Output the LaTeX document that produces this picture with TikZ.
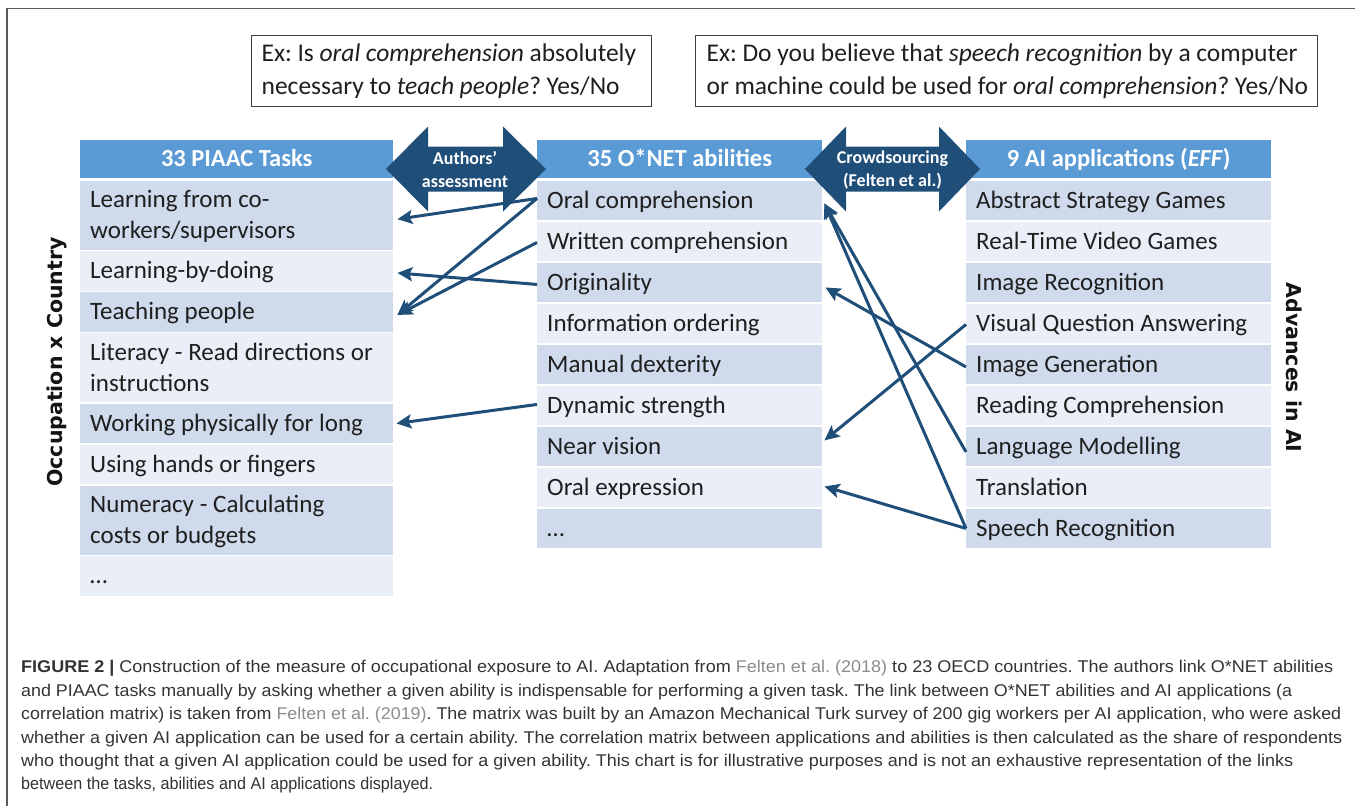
\documentclass[tikz,border=0pt]{standalone}
\usepackage{fontspec}
\usepackage{graphicx}
\setmainfont{Carlito}
\newfontfamily\capfont{Liberation Sans}
\newfontfamily\sidefont{DejaVu Sans}
\usetikzlibrary{arrows.meta}

\definecolor{hdrblue}{HTML}{5B9BD5}
\definecolor{rowdark}{HTML}{CFDAEC}
\definecolor{rowlight}{HTML}{E9EEF7}
\definecolor{navy}{HTML}{1F4E79}
\definecolor{captxt}{HTML}{333333}
\definecolor{capref}{HTML}{8C8C8C}
\definecolor{framegray}{HTML}{5A5A5A}

% struts that fix the baseline inside the cells
\newcommand\cellstrut{\rule[-6pt]{0pt}{28pt}}
\newcommand\headstrut{\rule[-5pt]{0pt}{25pt}}

\tikzset{
  cell/.style={anchor=north west, inner xsep=10pt, inner ysep=0pt, align=left,
    font=\fontsize{25}{31}\selectfont, text=black!88, minimum height=39.5pt,
    execute at begin node={\spaceskip=5.8pt plus 2pt minus 1pt\relax}},
  dark/.style={cell, fill=rowdark},
  light/.style={cell, fill=rowlight},
  tall/.style={minimum height=69pt},
  colL/.style={text width=293pt},
  colM/.style={text width=265pt},
  colR/.style={text width=285pt},
  head/.style={anchor=north west, fill=hdrblue, text=white, inner sep=0pt,
    font=\bfseries\fontsize{24.5}{28}\selectfont, minimum height=38pt, align=center},
  qbox/.style={anchor=north west, draw=black!75, line width=1.3pt, align=left,
    inner ysep=0pt, minimum height=71pt,
    font=\fontsize{25.5}{33}\selectfont, text=black!88,
    execute at begin node={\spaceskip=5.6pt plus 2pt minus 1pt\relax}},
  dblarrow/.style={fill=navy},
  arrowtxt/.style={text=white, align=center, inner sep=0pt,
    font=\bfseries\fontsize{18}{23}\selectfont},
  link/.style={draw=navy, line width=3pt, -{Stealth[length=15pt,width=14pt,inset=3pt]}},
  sidelab/.style={font=\sidefont\bfseries\fontsize{20.5}{24}\selectfont, text=black!92, inner sep=0pt},
  capline/.style={anchor=base west, inner sep=0pt, text=captxt,
    font=\capfont\fontsize{17}{20}\selectfont}
}

\begin{document}
\frenchspacing
\begin{tikzpicture}[x=1pt,y=-1pt]
\useasboundingbox (0,0) rectangle (1355,806);

% outer frame (open towards the right and bottom)
\draw[framegray, line width=1.5pt] (7,812) -- (7,8.5) -- (1362,8.5);

% question boxes
\node[qbox, minimum width=400pt, text width=380pt, inner xsep=10pt] (q1) at (251,35)
  {\mbox{Ex: Is \textit{oral comprehension} absolutely}\\
   \mbox{necessary to \textit{teach people}? Yes/No}};
\node[qbox, minimum width=622pt, text width=600pt, inner xsep=11pt] (q2) at (695,35)
  {\mbox{Ex: Do you believe that \textit{speech recognition} by a computer}\\
   \mbox{or machine could be used for \textit{oral comprehension}? Yes/No}};

% column headers
\node[head, minimum width=313pt] (th) at (80,140) {\headstrut 33 PIAAC Tasks};
\node[head, minimum width=285pt] (mh) at (537,140) {\headstrut 35 O*NET abilities};
\node[head, minimum width=305pt] (rh) at (966,140) {\headstrut 9 AI applications (\textit{EFF})};

% PIAAC tasks
\node[dark, colL, tall] (t1) at (80,180.5) {\cellstrut\mbox{Learning from co-}\\\mbox{workers/supervisors}\cellstrut};
\node[light, colL] (t2) at (80,251) {\cellstrut Learning-by-doing};
\node[dark, colL] (t3) at (80,292) {\cellstrut Teaching people};
\node[light, colL, tall] (t4) at (80,333) {\cellstrut\mbox{Literacy - Read directions or}\\\mbox{instructions}\cellstrut};
\node[dark, colL] (t5) at (80,403.5) {\cellstrut\mbox{Working physically for long}};
\node[light, colL] (t6) at (80,444.5) {\cellstrut Using hands or fingers};
\node[dark, colL, tall] (t7) at (80,485.5) {\cellstrut\mbox{Numeracy - Calculating}\\\mbox{costs or budgets}\cellstrut};
\node[light, colL] (t8) at (80,556) {\cellstrut\dots};

% O*NET abilities
\node[dark, colM] (m1) at (537,180.5) {\cellstrut Oral comprehension};
\node[light, colM] (m2) at (537,221.5) {\cellstrut\mbox{Written comprehension}};
\node[dark, colM] (m3) at (537,262.5) {\cellstrut Originality};
\node[light, colM] (m4) at (537,303.5) {\cellstrut Information ordering};
\node[dark, colM] (m5) at (537,344.5) {\cellstrut Manual dexterity};
\node[light, colM] (m6) at (537,385.5) {\cellstrut Dynamic strength};
\node[dark, colM] (m7) at (537,426.5) {\cellstrut Near vision};
\node[light, colM] (m8) at (537,467.5) {\cellstrut Oral expression};
\node[dark, colM] (m9) at (537,508.5) {\cellstrut\dots};

% AI applications
\node[dark, colR] (r1) at (966,180.5) {\cellstrut\mbox{Abstract Strategy Games}};
\node[light, colR] (r2) at (966,221.5) {\cellstrut\mbox{Real-Time Video Games}};
\node[dark, colR] (r3) at (966,262.5) {\cellstrut Image Recognition};
\node[light, colR] (r4) at (966,303.5) {\cellstrut\mbox{Visual Question Answering}};
\node[dark, colR] (r5) at (966,344.5) {\cellstrut Image Generation};
\node[light, colR] (r6) at (966,385.5) {\cellstrut\mbox{Reading Comprehension}};
\node[dark, colR] (r7) at (966,426.5) {\cellstrut Language Modelling};
\node[light, colR] (r8) at (966,467.5) {\cellstrut Translation};
\node[dark, colR] (r9) at (966,508.5) {\cellstrut Speech Recognition};

% side labels
\node[sidelab, rotate=90] (occ) at (57,362) {Occupation x Country};
\node[sidelab, rotate=-90] (adv) at (1294,367.5) {Advances in AI};

% double arrows between the columns
\fill[dblarrow] (386,169) -- (428,126.5) -- (428,146.5) -- (503,146.5) -- (503,126.5)
  -- (546,169) -- (503,211.5) -- (503,191.5) -- (428,191.5) -- (428,211.5) -- cycle;
\node[arrowtxt] (aa) at (465,169.5) {Authors'\\assessment};
\fill[dblarrow] (805,169) -- (846,126.5) -- (846,146.5) -- (939,146.5) -- (939,126.5)
  -- (980,169) -- (939,211.5) -- (939,191.5) -- (846,191.5) -- (846,211.5) -- cycle;
\node[arrowtxt] (cs) at (892.5,170.5) {Crowdsourcing\\(Felten et al.)};

% links from abilities to tasks
\draw[link] ([shift={(0,-2)}]m1.west) -- ([shift={(4,4)}]t1.east);
\draw[link] ([shift={(0,-2)}]m1.west) -- ([shift={(4,3)}]t3.east);
\draw[link] ([shift={(0,1)}]m2.west) -- ([shift={(4,3)}]t3.east);
\draw[link] ([shift={(0,2)}]m3.west) -- ([shift={(4,2)}]t2.east);
\draw[link] ([shift={(0,-1)}]m6.west) -- ([shift={(3,0)}]t5.east);

% links from AI applications to abilities
\draw[link] (r9.west) -- ([shift={(2,3)}]m1.east);
\draw[link] ([shift={(0,5.5)}]r7.west) -- ([shift={(2,3)}]m1.east);
\draw[link] ([shift={(0,2.5)}]r5.west) -- ([shift={(3,5)}]m3.east);
\draw[link] ([shift={(0,1)}]r4.west) -- ([shift={(2,-6)}]m7.east);
\draw[link] (r9.west) -- ([shift={(2,-1)}]m8.east);

% caption
\node[capline] (c1) at (21,672) {\resizebox{1312pt}{\height}{\textbf{FIGURE 2 |} Construction of the measure of occupational exposure to AI. Adaptation from {\color{capref}Felten et al. (2018)} to 23 OECD countries. The authors link O*NET abilities}};
\node[capline] (c2) at (21,696) {\resizebox{1271pt}{\height}{and PIAAC tasks manually by asking whether a given ability is indispensable for performing a given task. The link between O*NET abilities and AI applications (a}};
\node[capline] (c3) at (21,719) {\resizebox{1320pt}{\height}{correlation matrix) is taken from {\color{capref}Felten et al. (2019)}. The matrix was built by an Amazon Mechanical Turk survey of 200 gig workers per AI application, who were asked}};
\node[capline] (c4) at (21,743) {\resizebox{1321pt}{\height}{whether a given AI application can be used for a certain ability. The correlation matrix between applications and abilities is then calculated as the share of respondents}};
\node[capline] (c5) at (21,766) {\resizebox{1272pt}{\height}{who thought that a given AI application could be used for a given ability. This chart is for illustrative purposes and is not an exhaustive representation of the links}};
\node[capline] (c6) at (21,789) {\resizebox{412pt}{\height}{between the tasks, abilities and AI applications displayed.}};
\end{tikzpicture}
\end{document}
